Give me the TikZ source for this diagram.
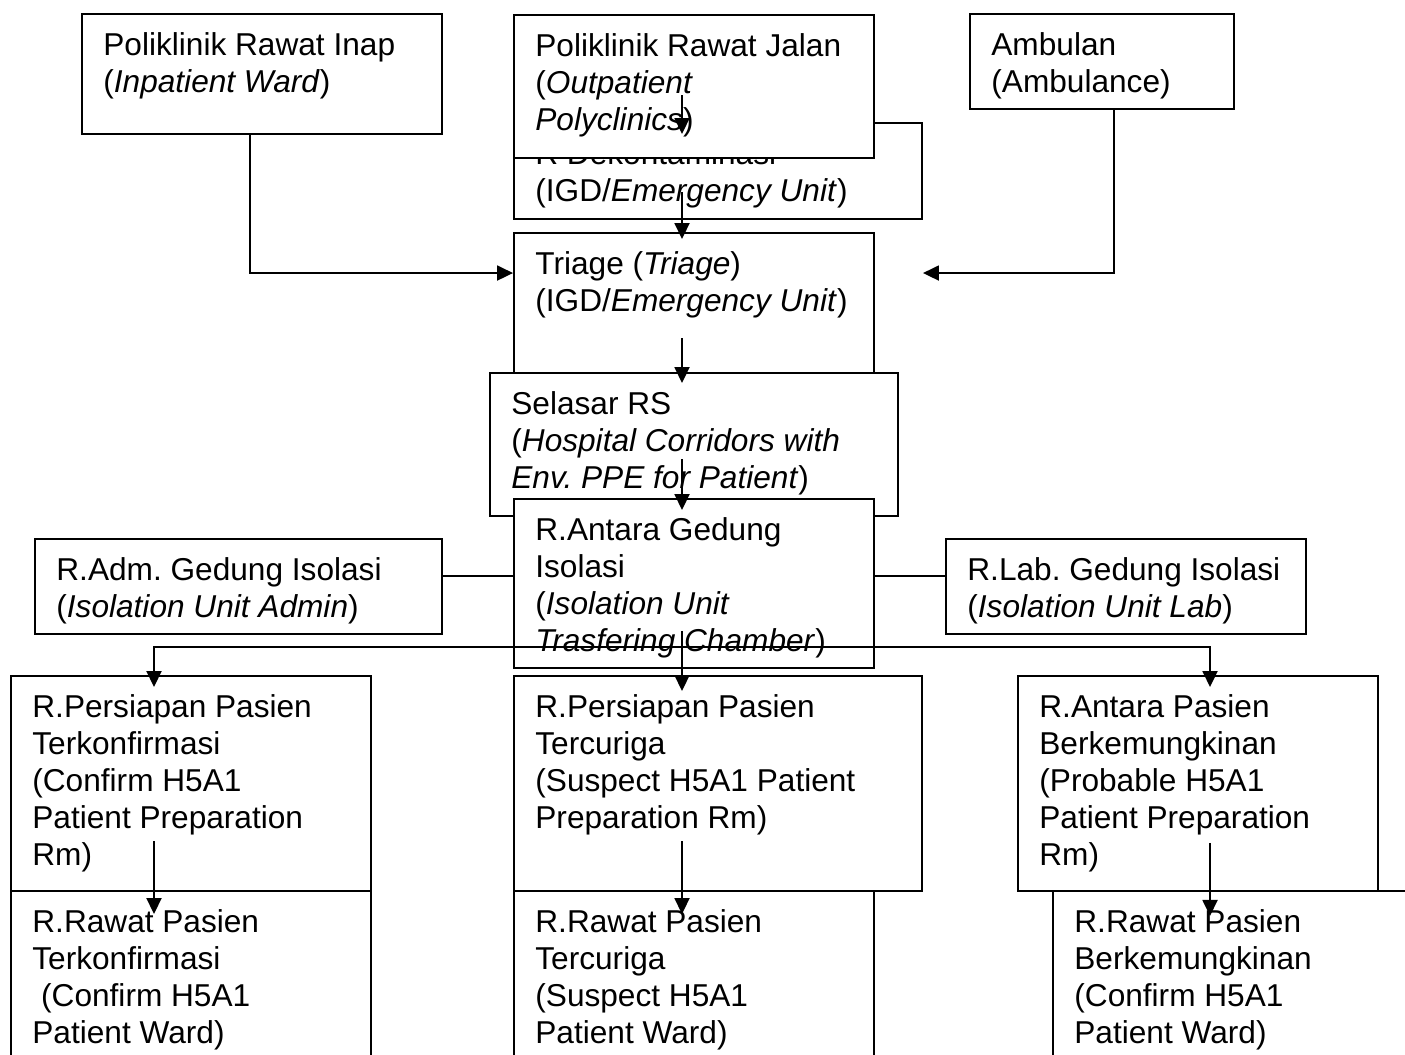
\documentclass[tikz,border=0pt]{standalone}
\usepackage{fontspec}
\setmainfont{Liberation Sans}
\frenchspacing
\usetikzlibrary{arrows.meta,fit,calc}

\begin{document}
\begin{tikzpicture}[
    x=0.02cm, y=-0.02cm,
    room/.style={draw, fill=white, line width=1.1pt, inner sep=0pt},
    roomtext/.style={anchor=north west, xshift=0.44cm, yshift=-0.39cm,
        align=left, inner sep=0pt, font=\fontsize{18}{21}\selectfont},
    flow/.style={-{Triangle[length=0.32cm, width=0.3cm]}, line width=1.1pt},
    twoway/.style={{Triangle[length=0.32cm, width=0.3cm]}-{Triangle[length=0.32cm, width=0.3cm]}, line width=1.1pt},
    link/.style={line width=1.1pt}
]
\useasboundingbox (0,0) rectangle (1405,1054);
\clip (0,0) rectangle (1405,1054);
\coordinate (spine) at (682,0);

% top row
\node[room, fit={(514,123) (922,219)}] (dek) {};
\node[roomtext] (dekT) at (dek.north west) {R Dekontaminasi\\(IGD/\textit{Emergency Unit})};
\node[room, fit={(514,15) (874,158)}] (outp) {};
\node[roomtext] (outpT) at (outp.north west) {Poliklinik Rawat Jalan\\(\textit{Outpatient}\\\textit{Polyclinics})};
\draw[flow] ($(spine |- outp.north)+(0,81)$) -- ($(spine |- outp.north)+(0,120)$);
\node[room, fit={(82,14) (442,134)}] (inp) {};
\node[roomtext] (inpT) at (inp.north west) {Poliklinik Rawat Inap\\(\textit{Inpatient Ward})};
\node[room, fit={(970,14) (1234,109)}] (amb) {};
\node[roomtext] (ambT) at (amb.north west) {Ambulan\\(Ambulance)};

% triage and corridor
\node[room, fit={(514,233) (874,390)}] (trg) {};
\node[roomtext] (trgT) at (trg.north west) {Triage (\textit{Triage})\\(IGD/\textit{Emergency Unit})};
\draw[flow] ($(spine |- dek.north)+(0,70)$) -- ($(spine |- trg.north)+(0,7)$);
\draw[flow] ($(inp.south)+(-12,0)$) |- ($(trg.north west)+(0,41)$);
\draw[flow] ($(amb.south)+(12,0)$) |- ($(trg.north east)+(48,41)$);
\node[room, fit={(490,373) (898,516)}] (sel) {};
\node[roomtext] (selT) at (sel.north west) {Selasar RS\\(\textit{Hospital Corridors with}\\\textit{Env. PPE for Patient})};
\draw[flow] ($(spine |- sel.north)+(0,-34)$) -- ($(spine |- sel.north)+(0,11)$);

% isolation building
\node[room, fit={(514,499) (874,668)}] (ant) {};
\node[roomtext] (antT) at (ant.north west) {R.Antara Gedung\\Isolasi\\(\textit{Isolation Unit}\\\textit{Trasfering Chamber})};
\draw[flow] ($(spine |- ant.north)+(0,-39)$) -- ($(spine |- ant.north)+(0,12)$);
\node[room, fit={(35,539) (442,634)}] (adm) {};
\node[roomtext] (admT) at (adm.north west) {R.Adm. Gedung Isolasi\\(\textit{Isolation Unit Admin})};
\node[room, fit={(946,539) (1306,634)}] (lab) {};
\node[roomtext] (labT) at (lab.north west) {R.Lab. Gedung Isolasi\\(\textit{Isolation Unit Lab})};
\draw[link] ($(adm.east)+(0,-10.5)$) -- ($(ant.west |- adm.east)+(0,-10.5)$);
\draw[link] ($(ant.east |- lab.west)+(0,-10.5)$) -- ($(lab.west)+(0,-10.5)$);

% patient rooms
\node[room, fit={(11,676) (371,891)}] (pk) {};
\node[roomtext] (pkT) at (pk.north west) {R.Persiapan Pasien\\Terkonfirmasi\\(Confirm H5A1\\Patient Preparation\\Rm)};
\node[room, fit={(514,676) (922,891)}] (pc) {};
\node[roomtext] (pcT) at (pc.north west) {R.Persiapan Pasien\\Tercuriga\\(Suspect H5A1 Patient\\Preparation Rm)};
\node[room, fit={(1018,676) (1378,891)}] (pb) {};
\node[roomtext] (pbT) at (pb.north west) {R.Antara Pasien\\Berkemungkinan\\(Probable H5A1\\Patient Preparation\\Rm)};
\node[room, fit={(11,891) (371,1075)}] (rk) {};
\node[roomtext] (rkT) at (rk.north west) {R.Rawat Pasien\\Terkonfirmasi\\~(Confirm H5A1\\Patient Ward)};
\node[room, fit={(514,891) (874,1075)}] (rc) {};
\node[roomtext] (rcT) at (rc.north west) {R.Rawat Pasien\\Tercuriga\\(Suspect H5A1\\Patient Ward)};
\node[room, fit={(1053,891) (1425,1075)}] (rb) {};
\node[roomtext] (rbT) at (rb.north west) {R.Rawat Pasien\\Berkemungkinan\\(Confirm H5A1\\Patient Ward)};

\draw[flow] ($(spine |- ant.south)+(0,-38)$) -- ($(spine |- pc.north)+(0,16)$);
\draw[twoway] ($(pk.north)+(-37,12)$) |- ($(pb.north)+(12,-28)$) -- ($(pb.north)+(12,12)$);
\draw[flow] ($(rk.north)+(-37,-49)$) -- ($(rk.north)+(-37,24)$);
\draw[flow] ($(spine |- rc.north)+(0,-49)$) -- ($(spine |- rc.north)+(0,24)$);
\draw[flow] ($(pb.south)+(12,-49)$) -- ($(pb.south)+(12,24)$);
\end{tikzpicture}
\end{document}
